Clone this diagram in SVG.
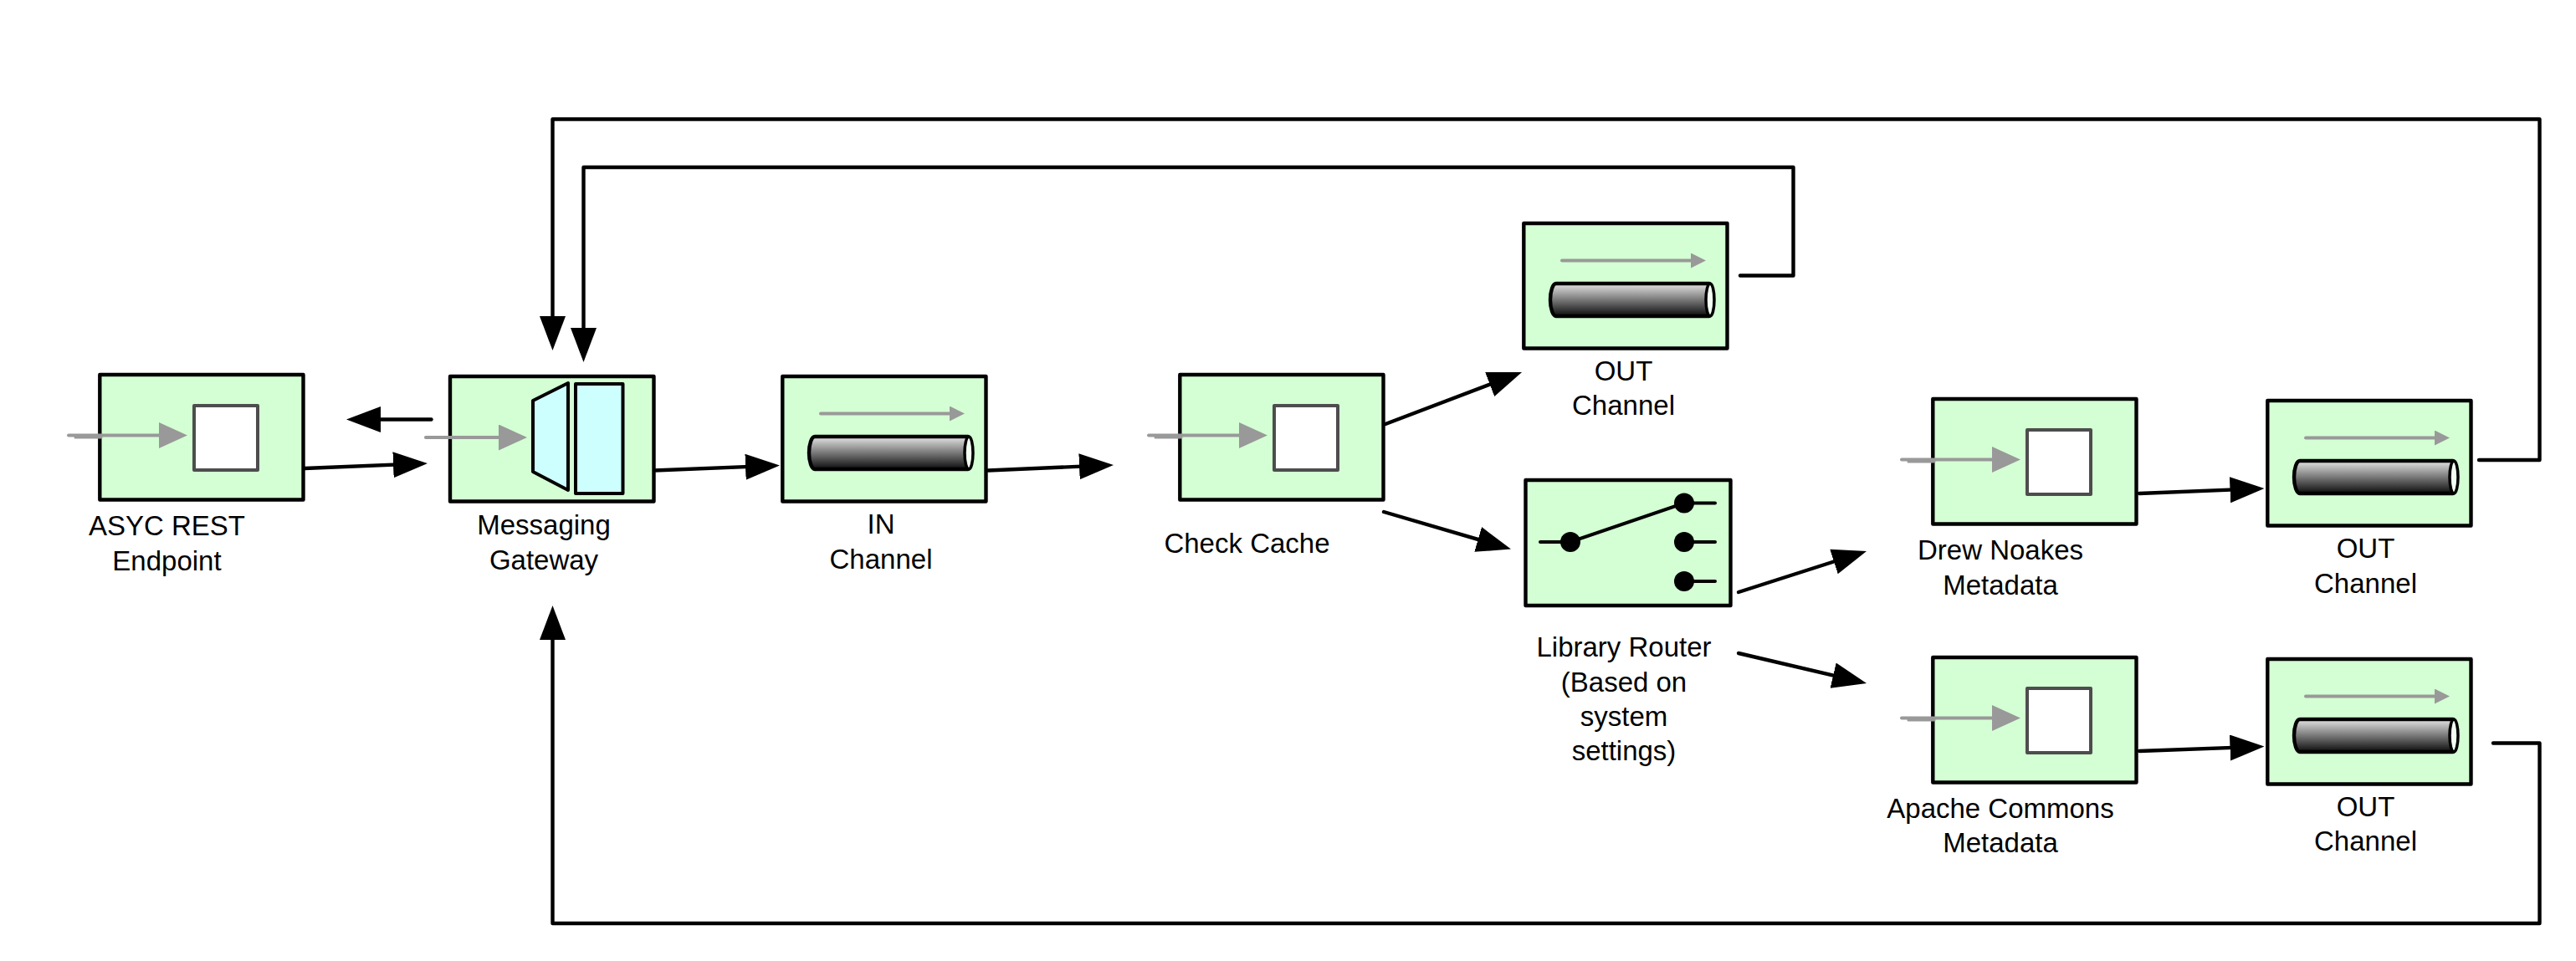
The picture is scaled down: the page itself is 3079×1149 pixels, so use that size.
<svg xmlns="http://www.w3.org/2000/svg" xmlns:xlink="http://www.w3.org/1999/xlink" width="3079" height="1149" viewBox="0 0 3079 1149">
<style>
.box{fill:#d4ffd4;stroke:#000;stroke-width:4.400;stroke-linejoin:round}
.wire{fill:none;stroke:#000;stroke-width:4.400;stroke-linecap:round;stroke-linejoin:round;marker-end:url(#head)}
.port{fill:#fff;stroke:#4d4d4d;stroke-width:4;stroke-linejoin:round}
.gin{fill:none;stroke:#999;stroke-width:4;stroke-linecap:round;marker-end:url(#ghead)}
.gsh{fill:none;stroke:#999;stroke-width:3;stroke-linecap:round}
.gflow{fill:none;stroke:#999;stroke-width:4;stroke-linecap:round;marker-end:url(#gsmall)}
.cyl{fill:url(#tube);stroke:#000;stroke-width:4.400;stroke-linejoin:round}
.cap{fill:#f2fff2;stroke:#000;stroke-width:3.500}
.gate{fill:#ceffff;stroke:#000;stroke-width:4;stroke-linejoin:round}
.sw{fill:none;stroke:#000;stroke-width:4;stroke-linecap:round}
text{font-family:"Liberation Sans",Arial,sans-serif;font-size:33px;fill:#000;text-anchor:middle}
</style>
<defs>
<linearGradient id="tube" x1="0" y1="0" x2="0" y2="1"><stop offset="0" stop-color="#e4e4e4"/><stop offset="1" stop-color="#0c0c0c"/></linearGradient>
<marker id="head" markerUnits="userSpaceOnUse" markerWidth="42" markerHeight="32" refX="31" refY="15.500" orient="auto"><path d="M0 0L41 15.500L0 31Z" fill="#000"/></marker>
<marker id="ghead" markerUnits="userSpaceOnUse" markerWidth="36" markerHeight="32" refX="24" refY="15.500" orient="auto"><path d="M0 0L34 15.500L0 31Z" fill="#999"/></marker>
<marker id="gsmall" markerUnits="userSpaceOnUse" markerWidth="19" markerHeight="19" refX="10" refY="9" orient="auto"><path d="M0 0L18 9L0 18Z" fill="#999"/></marker>
<g id="ep"><rect class="box" x="-0.700" y="1" width="243.200" height="149.500"/><rect class="port" x="112" y="38" width="76" height="77"/><path class="gsh" d="M-30 76H1"/><path class="gin" d="M-38 73.500H94"/></g>
<g id="ch"><rect class="box" x="-0.700" y="1" width="243.200" height="149.500"/><path class="gflow" d="M45 45.500H209"/><path class="cyl" d="M221 73H38A7 19.500 0 0 0 38 112H221Z"/><ellipse class="cap" cx="222" cy="92.500" rx="5" ry="19.500"/></g>
</defs>
<g id="connectors">
<path class="wire" d="M364 560L501 554.400"/>
<path class="wire" d="M515.500 501.500L424 501.500"/>
<path class="wire" d="M782 562.500L922 556.900"/>
<path class="wire" d="M1181 562.500L1321 556.400"/>
<path class="wire" d="M1656 507L1809.700 448.600"/>
<path class="wire" d="M1654 612L1796.400 653.700"/>
<path class="wire" d="M2078 708L2221.500 662"/>
<path class="wire" d="M2078 781L2221.300 814.700"/>
<path class="wire" d="M2557 590L2696.500 584.400"/>
<path class="wire" d="M2557 898L2696.500 892.900"/>
<path class="wire" d="M2080 329.500H2143.500V200H697.500V423"/>
<path class="wire" d="M2963 550H3035.500V142.500H660.500V409"/>
<path class="wire" d="M2980 888.500H3035.500V1104H660.500V734"/>
</g>
<g id="asyc-rest-endpoint"><use xlink:href="#ep" href="#ep" x="120" y="447"/><text x="199.500" y="640">ASYC REST</text><text x="199.500" y="682">Endpoint</text></g>
<g id="messaging-gateway">
<rect class="box" x="538" y="450" width="243.500" height="149.500"/>
<path class="gate" d="M637 479L679 458V586L637 564Z"/>
<rect class="gate" x="688" y="459" width="56.500" height="131"/>
<path class="gsh" d="M509 523H540"/><path class="gin" d="M509 523H620"/>
<text x="650" y="639">Messaging</text><text x="650" y="681">Gateway</text>
</g>
<g id="in-channel"><use xlink:href="#ch" href="#ch" x="936" y="449"/><text x="1053" y="638">IN</text><text x="1053" y="680">Channel</text></g>
<g id="check-cache"><use xlink:href="#ep" href="#ep" x="1411" y="447"/><text x="1490.500" y="661">Check Cache</text></g>
<g id="out-channel-top"><use xlink:href="#ch" href="#ch" x="1822" y="266"/><text x="1940.500" y="455">OUT</text><text x="1940.500" y="496">Channel</text></g>
<g id="library-router">
<rect class="box" x="1823.500" y="574" width="245" height="150"/>
<path class="sw" d="M1841 648H1877L2013 601.500H2050M2013 648H2050M2013 695H2050"/>
<circle cx="1877" cy="648" r="12"/><circle cx="2013" cy="601.500" r="12"/><circle cx="2013" cy="648" r="12"/><circle cx="2013" cy="695" r="12"/>
<text x="1941" y="785">Library Router</text><text x="1941" y="826.500">(Based on</text><text x="1941" y="867.500">system</text><text x="1941" y="908.500">settings)</text>
</g>
<g id="drew-noakes-metadata"><use xlink:href="#ep" href="#ep" x="2311" y="476"/><text x="2391" y="669">Drew Noakes</text><text x="2391" y="711">Metadata</text></g>
<g id="out-channel-middle"><use xlink:href="#ch" href="#ch" x="2711" y="478"/><text x="2827.500" y="667">OUT</text><text x="2827.500" y="709">Channel</text></g>
<g id="apache-commons-metadata"><use xlink:href="#ep" href="#ep" x="2311" y="785"/><text x="2391" y="978">Apache Commons</text><text x="2391" y="1019">Metadata</text></g>
<g id="out-channel-bottom"><use xlink:href="#ch" href="#ch" x="2711" y="787"/><text x="2827.500" y="976">OUT</text><text x="2827.500" y="1017">Channel</text></g>
</svg>
